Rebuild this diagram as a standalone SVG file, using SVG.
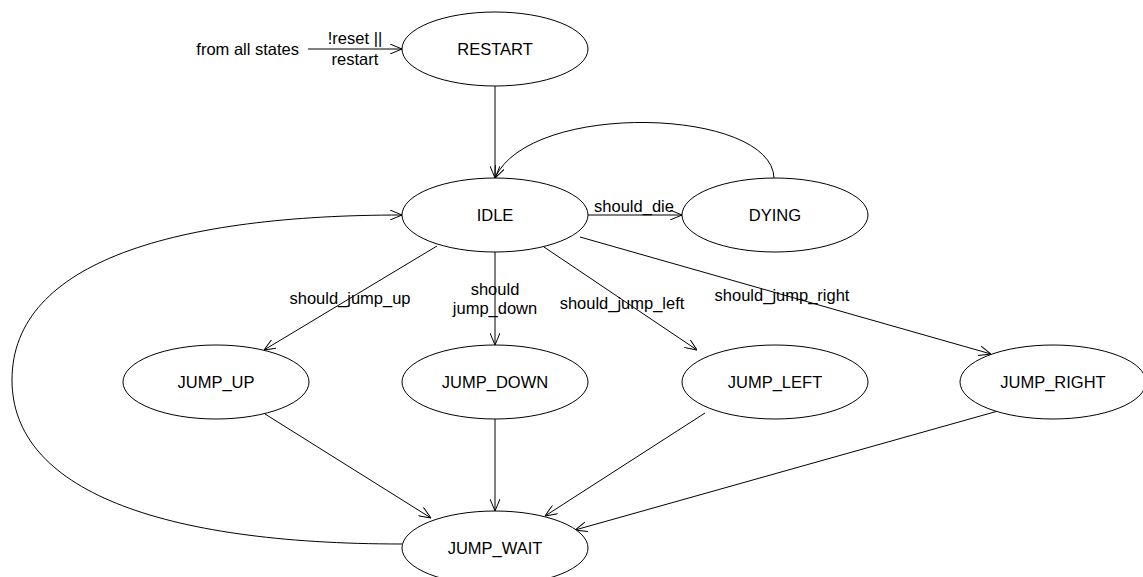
<svg xmlns="http://www.w3.org/2000/svg" width="1143" height="577" viewBox="0 0 1143 577">
<defs>
<marker id="arr" viewBox="0 0 12 10" refX="12" refY="5" markerWidth="12" markerHeight="10" markerUnits="userSpaceOnUse" orient="auto">
<path d="M0,0 L12,5 L0,10" fill="none" stroke="#000" stroke-width="1"/>
</marker>
</defs>
<style>
text{font-family:"Liberation Sans",Arial,sans-serif;font-size:16.5px;fill:#000}
.n ellipse{fill:#fff;stroke:#000;stroke-width:1}
.n text{text-anchor:middle}
.e path{fill:none;stroke:#000;stroke-width:1;marker-end:url(#arr)}
.l{text-anchor:middle}
</style>
<rect width="1143" height="577" fill="#fff"/>
<g id="connectors" class="e">
<path d="M308,49 L402,49"/>
<path d="M495,86 L495,178"/>
<path d="M588,215 L682,215"/>
<path d="M774,178 C772,108 530,100 495,178"/>
<path d="M437,246 L264,350"/>
<path d="M495,252 L495,345"/>
<path d="M544,247 L697,350"/>
<path d="M580,237 L991,354"/>
<path d="M265,414 L431,518"/>
<path d="M495,419 L495,511"/>
<path d="M705,413 L545,516"/>
<path d="M998,411 L575,530"/>
<path d="M402,544 C160,544 12,490 12,380 C12,260 180,215 402,215"/>
</g>
<g id="labels">
<text x="299" y="55" text-anchor="end">from all states</text>
<text class="l" x="355" y="44">!reset ||</text>
<text class="l" x="355" y="65">restart</text>
<text class="l" x="634" y="212">should_die</text>
<text class="l" x="350" y="304">should_jump_up</text>
<text class="l" x="495" y="295">should</text>
<text class="l" x="495" y="314">jump_down</text>
<text class="l" x="622" y="309">should_jump_left</text>
<text class="l" x="782" y="301">should_jump_right</text>
</g>
<g id="RESTART" class="n"><ellipse cx="495" cy="49" rx="93" ry="37"/><text x="495" y="55">RESTART</text></g>
<g id="IDLE" class="n"><ellipse cx="495" cy="215" rx="93" ry="37"/><text x="495" y="221">IDLE</text></g>
<g id="DYING" class="n"><ellipse cx="775" cy="215" rx="93" ry="37"/><text x="775" y="221">DYING</text></g>
<g id="JUMP_UP" class="n"><ellipse cx="216" cy="382" rx="93" ry="37"/><text x="216" y="388">JUMP_UP</text></g>
<g id="JUMP_DOWN" class="n"><ellipse cx="495" cy="382" rx="93" ry="37"/><text x="495" y="388">JUMP_DOWN</text></g>
<g id="JUMP_LEFT" class="n"><ellipse cx="775" cy="382" rx="93" ry="37"/><text x="775" y="388">JUMP_LEFT</text></g>
<g id="JUMP_RIGHT" class="n"><ellipse cx="1053" cy="382" rx="93" ry="37"/><text x="1053" y="388">JUMP_RIGHT</text></g>
<g id="JUMP_WAIT" class="n"><ellipse cx="495" cy="548" rx="93" ry="37"/><text x="495" y="554">JUMP_WAIT</text></g>
</svg>
